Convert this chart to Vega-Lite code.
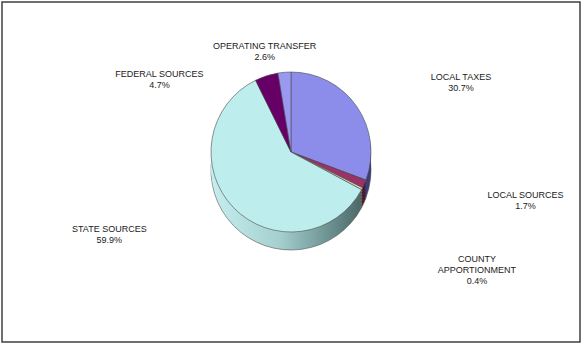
{
  "$schema": "https://vega.github.io/schema/vega-lite/v6.json",
  "autosize": {"type": "fit", "contains": "padding"},
  "width": 582,
  "height": 344,
  "padding": 1,
  "background": "white",
  "config": {
    "view": {"stroke": null},
    "text": {"font": "Liberation Sans", "fontSize": 9, "lineBreak": "\n", "lineHeight": 11, "color": "#1a1a1a", "align": "center", "baseline": "middle"}
  },
  "data": {
    "values": [
      {"source": "LOCAL TAXES", "value": 30.7, "order": 1, "label": "LOCAL TAXES\n30.7%"},
      {"source": "LOCAL SOURCES", "value": 1.7, "order": 2, "label": "LOCAL SOURCES\n1.7%"},
      {"source": "COUNTY APPORTIONMENT", "value": 0.4, "order": 3, "label": "COUNTY\nAPPORTIONMENT\n0.4%"},
      {"source": "STATE SOURCES", "value": 59.9, "order": 4, "label": "STATE SOURCES\n59.9%"},
      {"source": "FEDERAL SOURCES", "value": 4.7, "order": 5, "label": "FEDERAL SOURCES\n4.7%"},
      {"source": "OPERATING TRANSFER", "value": 2.6, "order": 6, "label": "OPERATING TRANSFER\n2.6%"}
    ]
  },
  "layer": [
    {
      "data": {"values": [{"frame": 1}]},
      "mark": {"type": "rect", "fill": null, "stroke": "#404040", "strokeWidth": 1.5},
      "encoding": {
        "x": {"value": 0}, "x2": {"value": "width"},
        "y": {"value": 0}, "y2": {"value": "height"}
      }
    },
    {
      "mark": {"type": "arc", "radius": 80, "yOffset": -2, "stroke": "#555555", "strokeWidth": 0.6},
      "encoding": {
        "theta": {"field": "value", "type": "quantitative", "stack": true},
        "order": {"field": "order", "type": "quantitative"},
        "color": {
          "condition": {"test": "datum.source === 'STATE SOURCES'", "value": {"gradient": "linear", "x1": 0, "y1": 0, "x2": 1, "y2": 0, "stops": [{"offset": 0, "color": "#C6EEEE"}, {"offset": 0.45, "color": "#A6D0D0"}, {"offset": 0.8, "color": "#6A8E8E"}, {"offset": 1, "color": "#4C6868"}]}},
          "field": "source", "type": "nominal", "legend": null,
          "scale": {"domain": ["LOCAL TAXES", "LOCAL SOURCES", "COUNTY APPORTIONMENT", "STATE SOURCES", "FEDERAL SOURCES", "OPERATING TRANSFER"], "range": ["#3E3E78", "#4A1A33", "#6E6E50", "#6A8E8E", "#330033", "#4C4C7A"]}
        }
      }
    },
    {
      "mark": {"type": "arc", "radius": 80, "yOffset": -5},
      "encoding": {
        "theta": {"field": "value", "type": "quantitative", "stack": true},
        "order": {"field": "order", "type": "quantitative"},
        "color": {
          "condition": {"test": "datum.source === 'STATE SOURCES'", "value": {"gradient": "linear", "x1": 0, "y1": 0, "x2": 1, "y2": 0, "stops": [{"offset": 0, "color": "#C6EEEE"}, {"offset": 0.45, "color": "#A6D0D0"}, {"offset": 0.8, "color": "#6A8E8E"}, {"offset": 1, "color": "#4C6868"}]}},
          "field": "source", "type": "nominal", "legend": null,
          "scale": {"domain": ["LOCAL TAXES", "LOCAL SOURCES", "COUNTY APPORTIONMENT", "STATE SOURCES", "FEDERAL SOURCES", "OPERATING TRANSFER"], "range": ["#3E3E78", "#4A1A33", "#6E6E50", "#6A8E8E", "#330033", "#4C4C7A"]}
        }
      }
    },
    {
      "mark": {"type": "arc", "radius": 80, "yOffset": -8},
      "encoding": {
        "theta": {"field": "value", "type": "quantitative", "stack": true},
        "order": {"field": "order", "type": "quantitative"},
        "color": {
          "condition": {"test": "datum.source === 'STATE SOURCES'", "value": {"gradient": "linear", "x1": 0, "y1": 0, "x2": 1, "y2": 0, "stops": [{"offset": 0, "color": "#C6EEEE"}, {"offset": 0.45, "color": "#A6D0D0"}, {"offset": 0.8, "color": "#6A8E8E"}, {"offset": 1, "color": "#4C6868"}]}},
          "field": "source", "type": "nominal", "legend": null,
          "scale": {"domain": ["LOCAL TAXES", "LOCAL SOURCES", "COUNTY APPORTIONMENT", "STATE SOURCES", "FEDERAL SOURCES", "OPERATING TRANSFER"], "range": ["#3E3E78", "#4A1A33", "#6E6E50", "#6A8E8E", "#330033", "#4C4C7A"]}
        }
      }
    },
    {
      "mark": {"type": "arc", "radius": 80, "yOffset": -11},
      "encoding": {
        "theta": {"field": "value", "type": "quantitative", "stack": true},
        "order": {"field": "order", "type": "quantitative"},
        "color": {
          "condition": {"test": "datum.source === 'STATE SOURCES'", "value": {"gradient": "linear", "x1": 0, "y1": 0, "x2": 1, "y2": 0, "stops": [{"offset": 0, "color": "#C6EEEE"}, {"offset": 0.45, "color": "#A6D0D0"}, {"offset": 0.8, "color": "#6A8E8E"}, {"offset": 1, "color": "#4C6868"}]}},
          "field": "source", "type": "nominal", "legend": null,
          "scale": {"domain": ["LOCAL TAXES", "LOCAL SOURCES", "COUNTY APPORTIONMENT", "STATE SOURCES", "FEDERAL SOURCES", "OPERATING TRANSFER"], "range": ["#3E3E78", "#4A1A33", "#6E6E50", "#6A8E8E", "#330033", "#4C4C7A"]}
        }
      }
    },
    {
      "mark": {"type": "arc", "radius": 80, "yOffset": -14},
      "encoding": {
        "theta": {"field": "value", "type": "quantitative", "stack": true},
        "order": {"field": "order", "type": "quantitative"},
        "color": {
          "condition": {"test": "datum.source === 'STATE SOURCES'", "value": {"gradient": "linear", "x1": 0, "y1": 0, "x2": 1, "y2": 0, "stops": [{"offset": 0, "color": "#C6EEEE"}, {"offset": 0.45, "color": "#A6D0D0"}, {"offset": 0.8, "color": "#6A8E8E"}, {"offset": 1, "color": "#4C6868"}]}},
          "field": "source", "type": "nominal", "legend": null,
          "scale": {"domain": ["LOCAL TAXES", "LOCAL SOURCES", "COUNTY APPORTIONMENT", "STATE SOURCES", "FEDERAL SOURCES", "OPERATING TRANSFER"], "range": ["#3E3E78", "#4A1A33", "#6E6E50", "#6A8E8E", "#330033", "#4C4C7A"]}
        }
      }
    },
    {
      "mark": {"type": "arc", "radius": 80, "yOffset": -17},
      "encoding": {
        "theta": {"field": "value", "type": "quantitative", "stack": true},
        "order": {"field": "order", "type": "quantitative"},
        "color": {
          "condition": {"test": "datum.source === 'STATE SOURCES'", "value": {"gradient": "linear", "x1": 0, "y1": 0, "x2": 1, "y2": 0, "stops": [{"offset": 0, "color": "#C6EEEE"}, {"offset": 0.45, "color": "#A6D0D0"}, {"offset": 0.8, "color": "#6A8E8E"}, {"offset": 1, "color": "#4C6868"}]}},
          "field": "source", "type": "nominal", "legend": null,
          "scale": {"domain": ["LOCAL TAXES", "LOCAL SOURCES", "COUNTY APPORTIONMENT", "STATE SOURCES", "FEDERAL SOURCES", "OPERATING TRANSFER"], "range": ["#3E3E78", "#4A1A33", "#6E6E50", "#6A8E8E", "#330033", "#4C4C7A"]}
        }
      }
    },
    {
      "mark": {"type": "arc", "radius": 80, "yOffset": -20, "stroke": "#4d4d4d", "strokeWidth": 0.6},
      "encoding": {
        "theta": {"field": "value", "type": "quantitative", "stack": true},
        "order": {"field": "order", "type": "quantitative"},
        "color": {
          "field": "source", "type": "nominal", "legend": null,
          "scale": {"domain": ["LOCAL TAXES", "LOCAL SOURCES", "COUNTY APPORTIONMENT", "STATE SOURCES", "FEDERAL SOURCES", "OPERATING TRANSFER"], "range": ["#8C8CEB", "#993366", "#E8E8C0", "#BDEDED", "#660066", "#9999F2"]}
        }
      }
    },
    {
      "mark": {"type": "text", "radius": 90, "yOffset": -20, "dx": 96, "dy": -24},
      "encoding": {
        "theta": {"field": "value", "type": "quantitative", "stack": true},
        "order": {"field": "order", "type": "quantitative"},
        "text": {"condition": {"test": "datum.order !== 1", "value": ""}, "field": "label"}
      }
    },
    {
      "mark": {"type": "text", "radius": 90, "yOffset": -20, "dx": 152, "dy": 7},
      "encoding": {
        "theta": {"field": "value", "type": "quantitative", "stack": true},
        "order": {"field": "order", "type": "quantitative"},
        "text": {"condition": {"test": "datum.order !== 2", "value": ""}, "field": "label"}
      }
    },
    {
      "mark": {"type": "text", "radius": 90, "yOffset": -20, "dx": 106, "dy": 66},
      "encoding": {
        "theta": {"field": "value", "type": "quantitative", "stack": true},
        "order": {"field": "order", "type": "quantitative"},
        "text": {"condition": {"test": "datum.order !== 3", "value": ""}, "field": "label"}
      }
    },
    {
      "mark": {"type": "text", "radius": 90, "yOffset": -20, "dx": -117, "dy": 14},
      "encoding": {
        "theta": {"field": "value", "type": "quantitative", "stack": true},
        "order": {"field": "order", "type": "quantitative"},
        "text": {"condition": {"test": "datum.order !== 4", "value": ""}, "field": "label"}
      }
    },
    {
      "mark": {"type": "text", "radius": 90, "yOffset": -20, "dx": -104, "dy": 8},
      "encoding": {
        "theta": {"field": "value", "type": "quantitative", "stack": true},
        "order": {"field": "order", "type": "quantitative"},
        "text": {"condition": {"test": "datum.order !== 5", "value": ""}, "field": "label"}
      }
    },
    {
      "mark": {"type": "text", "radius": 90, "yOffset": -20, "dx": -19, "dy": -16},
      "encoding": {
        "theta": {"field": "value", "type": "quantitative", "stack": true},
        "order": {"field": "order", "type": "quantitative"},
        "text": {"condition": {"test": "datum.order !== 6", "value": ""}, "field": "label"}
      }
    }
  ],
  "resolve": {"scale": {"color": "independent"}}
}
